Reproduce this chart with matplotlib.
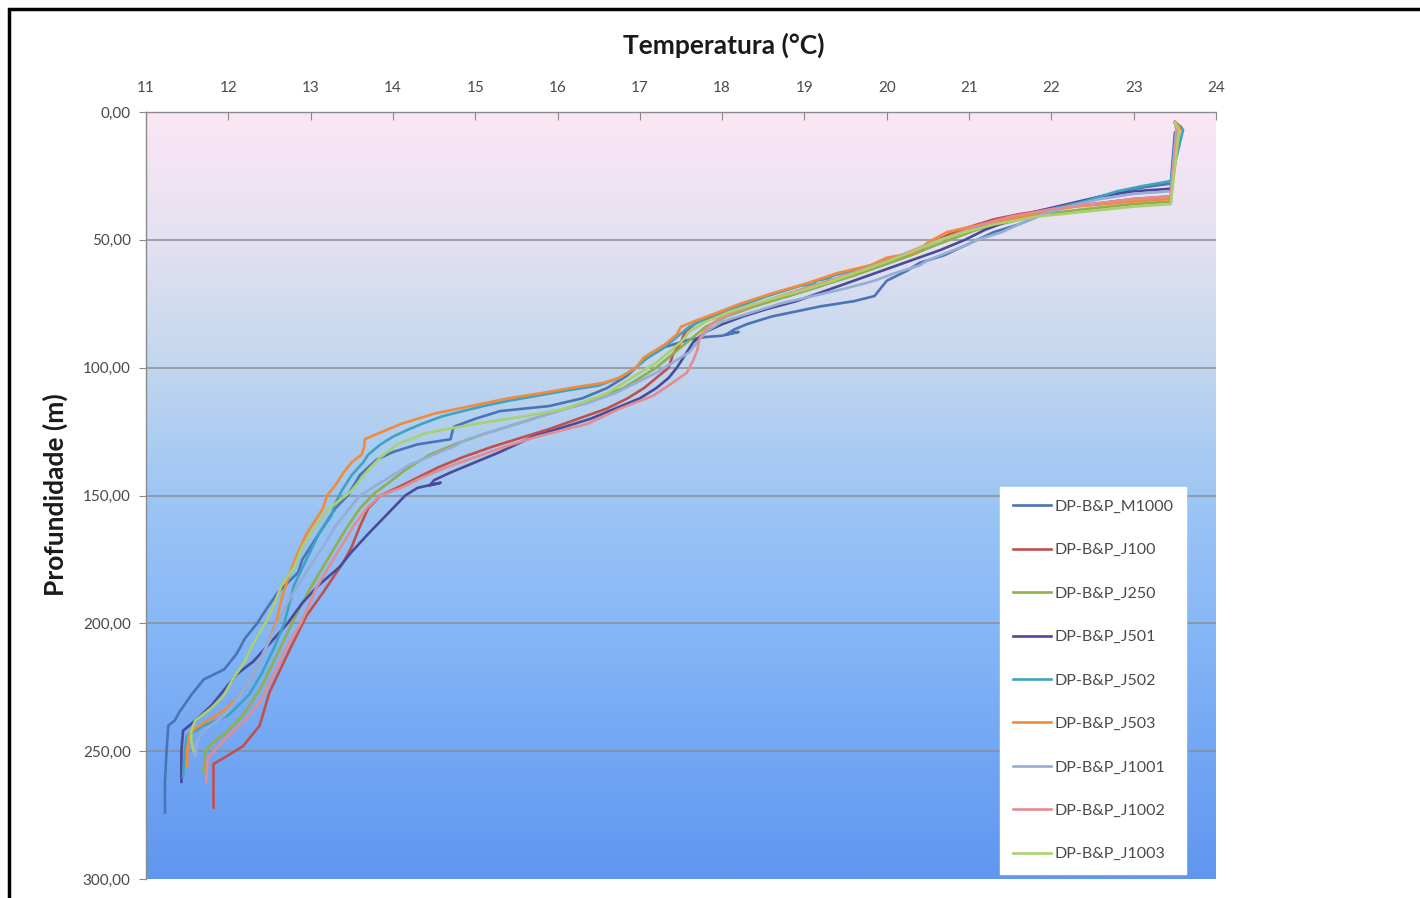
import numpy as np
import matplotlib
matplotlib.use("Agg")
import matplotlib.pyplot as plt
from matplotlib.colors import LinearSegmentedColormap
from matplotlib.patches import Rectangle

plt.rcParams['font.family'] = ['Lato', 'DejaVu Sans']

# ---------------- data (depth m, temperature °C) ----------------
series_names = ["DP-B&P_M1000", "DP-B&P_J100", "DP-B&P_J250", "DP-B&P_J501",
                "DP-B&P_J502", "DP-B&P_J503", "DP-B&P_J1001", "DP-B&P_J1002",
                "DP-B&P_J1003"]
series_colors = ["#4A74B5", "#C0504D", "#8FB04A", "#4B4A9A", "#3FA3C0",
                 "#F28A3C", "#94AED6", "#E38C92", "#A9D16E"]

m1000_depth = [4, 6, 8, 28, 30, 33, 36, 40, 44, 47, 50, 53, 56, 59, 62, 66, 68, 72, 74, 76, 78, 80,
               83, 85, 87, 86, 87.5, 88, 89, 92, 97, 103, 108, 112, 115, 117, 120, 123, 124, 128,
               130, 133, 136, 142, 150, 155, 165, 175, 180, 188, 195, 200, 206, 212, 218, 222, 228,
               235, 238, 240, 250, 262, 274]
m1000_temp = [23.5, 23.58, 23.5, 23.45, 23.0, 22.6, 22.3, 21.9, 21.6, 21.3, 21.1, 20.9, 20.7, 20.4,
              20.25, 20.0, 19.95, 19.85, 19.6, 19.2, 18.9, 18.6, 18.3, 18.15, 18.05, 18.2, 18.0,
              17.8, 17.6, 17.3, 17.05, 16.85, 16.6, 16.3, 15.9, 15.3, 15.0, 14.75, 14.73, 14.7,
              14.3, 14.0, 13.8, 13.6, 13.45, 13.3, 13.1, 12.9, 12.85, 12.6, 12.45, 12.35, 12.2,
              12.1, 11.95, 11.7, 11.55, 11.4, 11.35, 11.27, 11.25, 11.23, 11.23]

j100_depth = [4, 6, 33, 34, 36, 38, 40, 42, 45, 48, 52, 56, 60, 64, 68, 72, 76, 79, 82, 86, 90, 95,
              100, 104, 108, 112, 116, 120, 124, 127, 131, 135, 139, 143, 147, 150, 155, 162, 170,
              176, 188, 197, 210, 227, 240, 248, 252, 255, 272]
j100_temp = [23.5, 23.55, 23.45, 23.0, 22.5, 22.0, 21.6, 21.3, 21.0, 20.75, 20.5, 20.25, 19.9,
             19.5, 19.2, 18.8, 18.3, 18.0, 17.7, 17.55, 17.5, 17.4, 17.35, 17.2, 17.05, 16.85,
             16.6, 16.25, 15.9, 15.6, 15.2, 14.85, 14.55, 14.3, 14.05, 13.85, 13.7, 13.6, 13.5,
             13.4, 13.15, 12.95, 12.75, 12.5, 12.38, 12.18, 11.98, 11.82, 11.82]

j250_depth = [4, 7, 35, 36, 38, 40, 43, 46, 49, 52, 56, 60, 64, 68, 72, 76, 80, 84, 88, 92, 96, 100,
              104, 108, 111, 115, 118, 122, 126, 130, 134, 140, 145, 149, 155, 162, 170, 178, 186,
              195, 205, 215, 225, 235, 242, 247, 250, 258]
j250_temp = [23.5, 23.52, 23.45, 23.0, 22.4, 21.9, 21.5, 21.1, 20.85, 20.6, 20.3, 19.95, 19.6,
             19.2, 18.8, 18.4, 18.05, 17.8, 17.65, 17.5, 17.35, 17.2, 17.0, 16.8, 16.55, 16.2,
             15.9, 15.5, 15.1, 14.75, 14.45, 14.15, 13.95, 13.78, 13.6, 13.45, 13.3, 13.15, 13.0,
             12.85, 12.7, 12.55, 12.4, 12.2, 12.0, 11.8, 11.72, 11.7]

j501_depth = [4, 6, 30, 31, 33, 36, 39, 43, 46, 50, 54, 58, 62, 66, 70, 74, 77, 80, 83, 86, 90, 95,
              100, 104, 108, 112, 116, 120, 124, 127, 130, 133, 137, 141, 144, 146, 145, 147, 150,
              155, 160, 165, 172, 178, 185, 192, 200, 208, 215, 220, 226, 232, 238, 242, 250, 262]
j501_temp = [23.5, 23.55, 23.45, 23.0, 22.6, 22.2, 21.8, 21.45, 21.2, 20.95, 20.65, 20.3, 19.95,
             19.6, 19.25, 18.9, 18.55, 18.25, 18.0, 17.8, 17.65, 17.55, 17.45, 17.35, 17.2, 17.0,
             16.7, 16.4, 16.0, 15.7, 15.5, 15.3, 15.0, 14.7, 14.5, 14.45, 14.58, 14.3, 14.15,
             14.0, 13.85, 13.7, 13.5, 13.35, 13.1, 12.9, 12.72, 12.5, 12.3, 12.1, 11.95, 11.8,
             11.6, 11.45, 11.43, 11.43]

j502_depth = [4, 7, 27, 29, 31, 35, 38, 42, 46, 50, 54, 58, 61, 64, 65, 66, 67.5, 68, 72, 76, 80, 84,
              88, 92, 96, 100, 104, 107, 109, 111, 113, 115, 117, 119, 122, 124, 127, 130, 134, 137,
              142, 148, 153, 158, 165, 175, 185, 195, 200, 210, 220, 228, 236, 240, 244, 250, 260]
j502_temp = [23.5, 23.6, 23.45, 23.1, 22.8, 22.4, 22.0, 21.5, 21.0, 20.65, 20.35, 20.0, 19.7,
             19.35, 19.3, 19.15, 19.1, 18.95, 18.55, 18.2, 17.85, 17.6, 17.45, 17.3, 17.1, 16.95,
             16.75, 16.5, 16.1, 15.75, 15.4, 15.1, 14.85, 14.6, 14.35, 14.2, 14.0, 13.85, 13.7,
             13.64, 13.5, 13.38, 13.3, 13.25, 13.1, 12.95, 12.8, 12.72, 12.68, 12.55, 12.4, 12.25,
             12.0, 11.7, 11.5, 11.47, 11.45]

j503_depth = [4, 6, 34, 35, 37, 39, 42, 45, 47, 51, 55, 57, 60, 63, 67, 71, 75, 79, 82, 84, 87, 91,
              96, 100, 104, 106, 108, 110, 112, 114, 116, 118, 120, 122, 124, 126, 128, 131, 134,
              137, 141, 146, 150, 155, 160, 165, 172, 180, 190, 200, 210, 220, 228, 234, 238, 241,
              244, 250, 256]
j503_temp = [23.5, 23.56, 23.45, 23.0, 22.3, 21.9, 21.5, 21.0, 20.73, 20.5, 20.35, 20.0, 19.8,
             19.4, 19.03, 18.6, 18.22, 17.9, 17.65, 17.5, 17.45, 17.3, 17.05, 16.95, 16.75, 16.55,
             16.15, 15.8, 15.4, 15.1, 14.8, 14.5, 14.3, 14.1, 13.95, 13.8, 13.66, 13.65, 13.62,
             13.5, 13.4, 13.3, 13.2, 13.15, 13.05, 12.95, 12.85, 12.75, 12.65, 12.58, 12.45,
             12.3, 12.15, 11.95, 11.75, 11.6, 11.52, 11.5, 11.5]

j1001_depth = [4, 6, 31, 32, 34, 37, 40, 44, 47, 50, 53, 55, 58, 60, 63, 66, 69, 72, 75, 78, 82, 86,
               90, 94, 98, 102, 106, 110, 114, 117, 120, 124, 128, 131, 134, 138, 142, 146, 150,
               156, 162, 170, 180, 190, 200, 210, 220, 228, 236, 242, 246, 252]
j1001_temp = [23.5, 23.52, 23.45, 23.0, 22.6, 22.2, 21.9, 21.6, 21.4, 21.1, 20.9, 20.73, 20.5,
              20.4, 20.1, 19.85, 19.5, 19.1, 18.7, 18.4, 18.0, 17.8, 17.7, 17.6, 17.4, 17.2,
              16.95, 16.7, 16.35, 16.0, 15.7, 15.3, 14.9, 14.73, 14.5, 14.2, 14.0, 13.8, 13.6,
              13.45, 13.3, 13.15, 12.95, 12.75, 12.6, 12.45, 12.3, 12.15, 11.95, 11.7, 11.62, 11.6]

j1002_depth = [4, 6, 33, 34, 36, 38, 41, 44, 47, 50, 53, 57, 61, 65, 69, 73, 77, 81, 85, 89, 93, 97,
               102, 107, 111, 116, 122, 127, 131, 135, 139, 143, 147, 150, 155, 162, 170, 178, 186,
               195, 200, 210, 220, 230, 238, 244, 249, 253, 262]
j1002_temp = [23.5, 23.53, 23.45, 23.0, 22.5, 22.0, 21.5, 21.15, 20.9, 20.65, 20.4, 20.1, 19.75,
              19.4, 19.0, 18.6, 18.25, 17.95, 17.8, 17.72, 17.7, 17.65, 17.57, 17.35, 17.16, 16.76,
              16.36, 15.75, 15.35, 15.0, 14.65, 14.35, 14.1, 13.85, 13.68, 13.52, 13.37, 13.22,
              13.07, 12.95, 12.88, 12.7, 12.55, 12.4, 12.2, 12.0, 11.85, 11.75, 11.73]

j1003_depth = [4, 7, 36, 37, 39, 41, 44, 47, 50, 54, 58, 62, 66, 70, 74, 78, 82, 86, 90, 94, 98,
               102, 106, 110, 113, 116, 119, 122, 125.6, 130, 135, 140, 144, 148, 152, 155.6, 160,
               165, 170, 178, 185, 193, 200, 208, 215, 222, 228, 233, 238, 242, 246, 250]
j1003_temp = [23.5, 23.55, 23.45, 23.0, 22.4, 21.8, 21.3, 20.95, 20.65, 20.35, 20.05, 19.7, 19.35,
              18.95, 18.5, 18.1, 17.8, 17.6, 17.5, 17.35, 17.2, 17.0, 16.8, 16.6, 16.35, 16.1,
              15.6, 15.0, 14.4, 14.05, 13.85, 13.7, 13.6, 13.5, 13.35, 13.2, 13.1, 13.0, 12.9,
              12.8, 12.65, 12.55, 12.45, 12.3, 12.2, 12.05, 11.95, 11.8, 11.6, 11.55, 11.55, 11.58]

series_depths = [m1000_depth, j100_depth, j250_depth, j501_depth, j502_depth,
                 j503_depth, j1001_depth, j1002_depth, j1003_depth]
series_temps = [m1000_temp, j100_temp, j250_temp, j501_temp, j502_temp,
                j503_temp, j1001_temp, j1002_temp, j1003_temp]

x_ticks = list(range(11, 25))
y_ticks = [0, 50, 100, 150, 200, 250, 300]
y_tick_labels = ["0,00", "50,00", "100,00", "150,00", "200,00", "250,00", "300,00"]

# ---------------- figure ----------------
W, H = 1420, 898
fig = plt.figure(figsize=(W / 100, H / 100), dpi=100)
fig.patch.set_facecolor("white")

ax = fig.add_axes([146 / W, 1 - 879 / H, (1216 - 146) / W, (879 - 112) / H])

bg = LinearSegmentedColormap.from_list("bg", [
    (0.00, "#FCE6F4"), (0.17, "#E3E1F1"), (0.33, "#C2D6EE"),
    (0.50, "#9EC6F4"), (0.67, "#86B7F7"), (0.83, "#74A7F4"), (1.00, "#6096EF")])
grad = np.linspace(0, 1, 256).reshape(-1, 1)
ax.imshow(grad, cmap=bg, extent=(11, 24, 300, 0), origin="upper", aspect="auto", zorder=0)

for yv in y_ticks[1:-1]:
    ax.axhline(yv, color="#8A8E98", lw=1.1, zorder=1)

for d, t, c, n in zip(series_depths, series_temps, series_colors, series_names):
    ax.plot(t, d, color=c, lw=1.9, label=n, zorder=3, solid_joinstyle="round")

ax.set_xlim(11, 24)
ax.set_ylim(300, 0)
ax.xaxis.tick_top()
ax.set_xticks(x_ticks)
ax.set_xticklabels([str(v) for v in x_ticks], fontsize=11, color="#4a4a4a")
ax.set_yticks(y_ticks)
ax.set_yticklabels(y_tick_labels, fontsize=11, color="#4a4a4a")
ax.tick_params(axis="x", direction="in", length=6, color="#8A8A8A", pad=12)
ax.tick_params(axis="y", direction="out", length=5, color="#8A8A8A", pad=6)
for s in ["right", "bottom"]:
    ax.spines[s].set_visible(False)
for s in ["top", "left"]:
    ax.spines[s].set_color("#8A8A8A")
    ax.spines[s].set_linewidth(1.0)

fig.text(724 / W, 1 - 45 / H, "Temperatura (°C)", ha="center", va="center",
         fontsize=19, fontweight="bold", color="#1a1a1a")
fig.text(55 / W, 1 - 495 / H, "Profundidade (m)", ha="center", va="center",
         rotation=90, fontsize=19, fontweight="bold", color="#1a1a1a")

leg = ax.legend(loc="upper left", bbox_to_anchor=(1000 / W, 1 - 487 / H),
                bbox_transform=fig.transFigure, prop={"size": 11.5}, frameon=True,
                fancybox=False, labelspacing=1.83, handlelength=2.4,
                handletextpad=0.2, borderpad=0.8, borderaxespad=0)
leg.get_frame().set_facecolor("white")
leg.get_frame().set_edgecolor("white")
leg.get_frame().set_alpha(1)
for txt in leg.get_texts():
    txt.set_color("#4a4a4a")

fig.add_artist(Rectangle((9 / W, -0.05), 1.2, 1 - 9 / H + 0.05, transform=fig.transFigure,
                         fill=False, edgecolor="black", lw=2.5))

fig.savefig("out.png", dpi=100)
